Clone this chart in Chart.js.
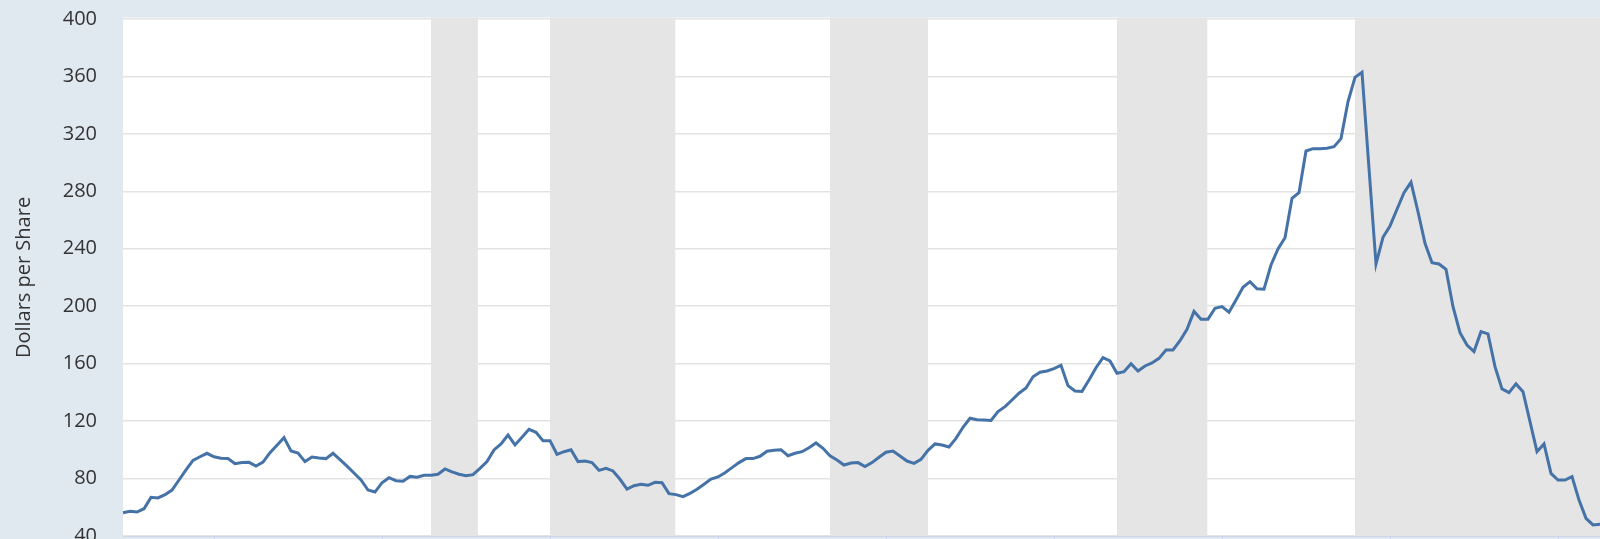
<!DOCTYPE html>
<html>
<head>
<meta charset="utf-8">
<script src="https://cdn.jsdelivr.net/npm/chart.js@4"></script>
<style>
  html, body { margin: 0; padding: 0; background: #e1e9f0; overflow: hidden; }
  #wrap { width: 1600px; height: 539px; position: relative; }
</style>
</head>
<body>
<div id="wrap"><canvas id="chart"></canvas></div>
<script>
// monthly observations; the date labels are cropped off in the source image, start month is assumed
const start_year = 1975;
const start_month = 11; // December (0-based)

const values = [
    56.2, 57.2, 56.7, 59.0, 66.9, 66.5, 68.8, 72.0, 79.0, 86.0, 92.7, 95.2,
    97.6, 95.2, 94.1, 93.9, 90.4, 91.1, 91.3, 88.7, 91.5, 98.0, 103.2, 108.5,
    99.2, 97.8, 91.8, 95.0, 94.3, 93.9, 97.6, 93.2, 88.7, 83.9, 79.0, 72.0,
    70.6, 77.1, 80.6, 78.5, 78.1, 81.5, 81.0, 82.3, 82.3, 83.0, 86.7, 84.6,
    83.0, 82.0, 82.7, 87.1, 91.8, 99.9, 104.1, 110.3, 103.4, 108.7, 114.3, 112.2,
    106.4, 106.4, 96.9, 98.7, 100.1, 91.8, 92.2, 91.1, 85.7, 87.1, 85.3, 79.5,
    72.7, 75.0, 76.0, 75.3, 77.4, 77.1, 69.5, 68.8, 67.4, 69.7, 72.5, 76.0,
    79.6, 81.1, 84.1, 87.6, 91.1, 93.9, 93.9, 95.5, 99.0, 99.7, 100.1, 95.9,
    97.6, 98.7, 101.5, 104.8, 101.1, 95.9, 92.9, 89.4, 90.8, 91.1, 88.3, 91.1,
    94.8, 98.3, 99.2, 95.7, 92.2, 90.6, 93.4, 99.7, 104.1, 103.4, 102.0, 108.0,
    115.7, 122.0, 121.0, 120.8, 120.5, 126.6, 130.1, 134.7, 139.4, 143.1, 150.9, 154.0,
    154.9, 156.5, 158.9, 144.7, 141.0, 140.7, 148.6, 157.2, 164.2, 161.9, 153.3, 154.4,
    160.0, 154.9, 158.4, 160.5, 163.7, 169.5, 169.5, 176.0, 183.9, 196.4, 191.0, 191.0,
    198.6, 199.7, 195.8, 204.4, 213.2, 217.1, 212.2, 211.8, 228.7, 239.9, 247.7, 275.2,
    279.1, 308.1, 309.7, 309.7, 310.0, 311.1, 316.7, 342.4, 359.4, 362.9, 296.0, 229.4,
    248.0, 255.9, 267.5, 279.1, 286.3, 265.8, 243.8, 230.3, 229.4, 225.7, 199.7, 181.6,
    173.0, 168.4, 182.3, 180.7, 157.9, 142.4, 139.8, 145.9, 140.5, 119.6, 98.7, 104.1,
    83.6, 79.0, 79.0, 81.3, 65.1, 52.3, 47.7, 48.1
];

// shaded periods, as observation positions (start, end)
const shaded_starts = [44, 61, 101, 142, 176];
const shaded_ends = [50.7, 78.9, 115, 154.9, 211];

const y_ticks = [40, 80, 120, 160, 200, 240, 280, 320, 360, 400];
const y_title = 'Dollars per Share';

const categories = [];
for (let i = 0; i < values.length; i++) {
    const m = start_month + i;
    const y = start_year + Math.floor(m / 12);
    categories.push(y + '-' + String(m % 12 + 1).padStart(2, '0'));
}

const plot_background = {
    id: 'plot_background',
    beforeDraw(chart) {
        const { ctx, chartArea: a } = chart;
        ctx.save();
        ctx.fillStyle = '#ffffff';
        ctx.fillRect(a.left, a.top - 1.5, a.right - a.left, a.bottom - a.top + 1.5);
        ctx.restore();
    }
};

const shading = {
    id: 'shading',
    beforeDatasetsDraw(chart) {
        const { ctx, chartArea: a, scales } = chart;
        ctx.save();
        ctx.fillStyle = '#e5e5e5';
        for (let i = 0; i < shaded_starts.length; i++) {
            const x0 = scales.x.getPixelForValue(shaded_starts[i]);
            let x1 = scales.x.getPixelForValue(shaded_ends[i]);
            if (shaded_ends[i] >= values.length - 1) x1 = a.right;
            ctx.fillRect(x0, a.top - 1.5, x1 - x0, a.bottom - a.top + 1.5);
        }
        ctx.restore();
    }
};

const ctx = document.getElementById('chart').getContext('2d');

const the_chart = new Chart(ctx, {
    type: 'line',
    data: {
        labels: categories,
        datasets: [{
            label: 'Price',
            data: values,
            borderColor: '#4572a7',
            borderWidth: 3,
            pointRadius: 0,
            tension: 0,
            fill: false
        }]
    },
    options: {
        responsive: true,
        maintainAspectRatio: false,
        animation: false,
        devicePixelRatio: 1,
        layout: { padding: { top: 19, left: 0, right: 0, bottom: 0 } },
        plugins: {
            legend: { display: false },
            tooltip: { enabled: false }
        },
        scales: {
            x: {
                type: 'category',
                offset: false,
                grid: {
                    drawOnChartArea: false,
                    drawTicks: true,
                    tickLength: 3,
                    color: '#ccd6eb',
                    offset: false
                },
                border: { color: '#ccd6eb', width: 1 },
                ticks: { display: false, autoSkip: false },
                afterBuildTicks: (scale) => {
                    scale.ticks = scale.ticks.filter(t => (t.value - 13) % 24 === 0);
                }
            },
            y: {
                min: 40,
                max: 400,
                afterBuildTicks: (scale) => {
                    scale.ticks = y_ticks.map(v => ({ value: v }));
                },
                grid: {
                    color: '#e3e3e3',
                    lineWidth: 1.5,
                    drawTicks: false
                },
                border: { display: false },
                ticks: {
                    color: '#333333',
                    padding: 26,
                    font: { family: 'Open Sans', size: 20 }
                },
                title: {
                    display: true,
                    text: y_title,
                    color: '#333333',
                    padding: { top: 12, bottom: 0 },
                    font: { family: 'Open Sans', size: 20 }
                },
                afterFit: (scale) => {
                    scale.width = 123;
                    scale.paddingTop = 0;
                    scale.paddingBottom = 0;
                }
            }
        }
    },
    plugins: [plot_background, shading]
});
</script>
</body>
</html>
